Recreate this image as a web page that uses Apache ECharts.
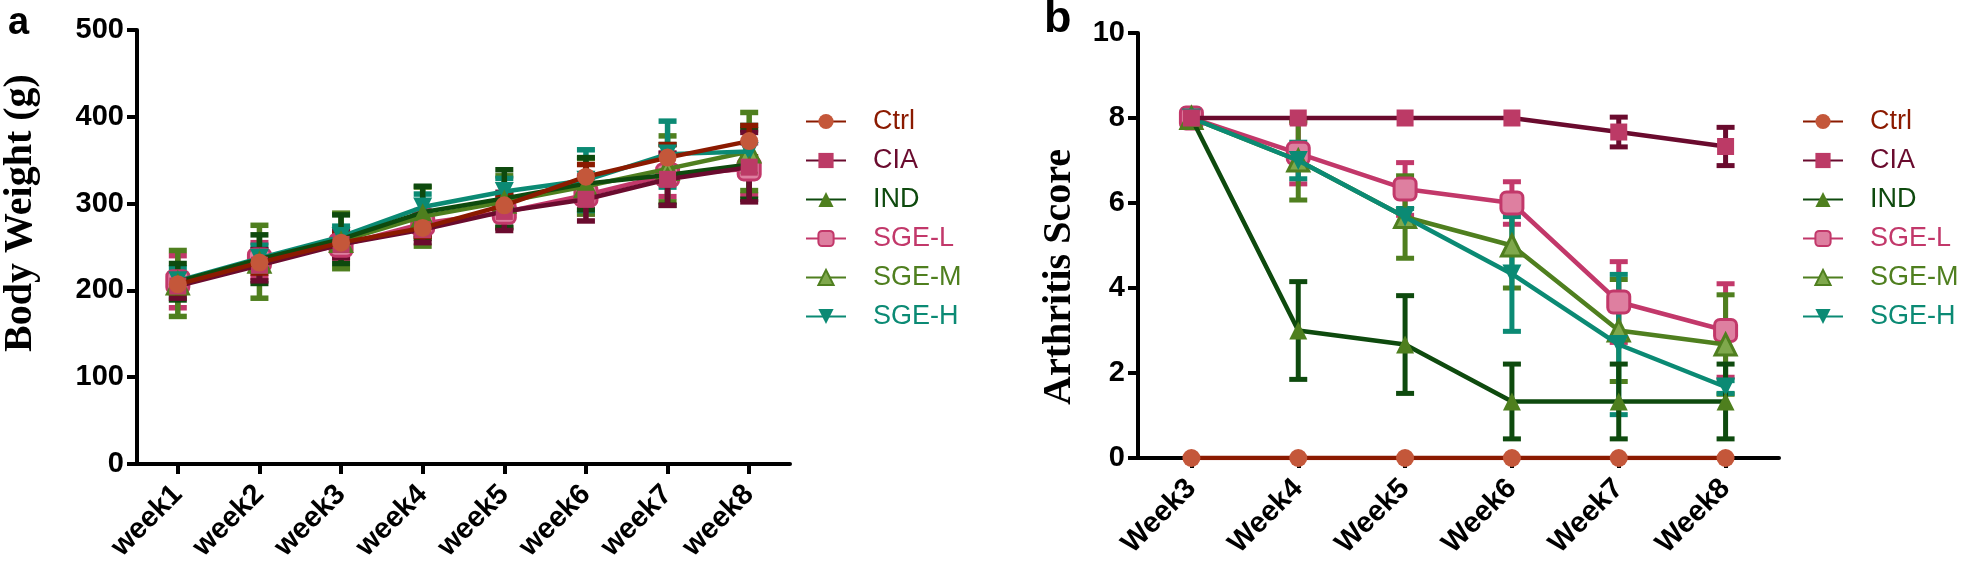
<!DOCTYPE html>
<html>
<head>
<meta charset="utf-8">
<script src="https://cdn.jsdelivr.net/npm/echarts@6/dist/echarts.min.js"></script>
<style>
html,body{margin:0;padding:0;background:#fff;}
#chart{width:1964px;height:578px;}
</style>
</head>
<body>
<div id="chart"></div>
<script>
// ---------- DATA ----------
var groups = ['Ctrl', 'CIA', 'IND', 'SGE-L', 'SGE-M', 'SGE-H'];

// Panel a: body weight (g)
var bwWeeks = ['week1', 'week2', 'week3', 'week4', 'week5', 'week6', 'week7', 'week8'];
var bwTicks = [0, 100, 200, 300, 400, 500];
var bwCtrl  = [207, 232, 255, 272, 298, 331, 353, 372];
var bwCIA   = [205, 229, 253, 270, 291, 305, 328, 342];
var bwIND   = [210, 236, 259, 290, 306, 323, 333, 345];
var bwSGEL  = [210, 235, 252, 277, 290, 310, 333, 340];
var bwSGEM  = [208, 233, 257, 285, 302, 320, 340, 360];
var bwSGEH  = [211, 237, 262, 296, 314, 327, 357, 360];
var bwCtrlErr = [10, 12, 10, 10, 12, 14, 15, 18];
var bwCIAErr  = [14, 18, 15, 15, 22, 25, 30, 40];
var bwINDErr  = [21, 28, 28, 30, 33, 30, 35, 40];
var bwSGELErr = [30, 20, 15, 15, 18, 22, 25, 30];
var bwSGEMErr = [38, 42, 32, 34, 30, 32, 38, 45];
var bwSGEHErr = [15, 15, 12, 15, 15, 35, 38, 30];

// Panel b: arthritis score
var asWeeks = ['Week3', 'Week4', 'Week5', 'Week6', 'Week7', 'Week8'];
var asTicks = [0, 2, 4, 6, 8, 10];
var asCtrl  = [0, 0, 0, 0, 0, 0];
var asCIA   = [8, 8, 8, 8, 7.67, 7.33];
var asIND   = [8, 3, 2.67, 1.33, 1.33, 1.33];
var asSGEL  = [8, 7.17, 6.33, 6, 3.67, 3];
var asSGEM  = [8, 7, 5.67, 5, 3, 2.67];
var asSGEH  = [8, 7, 5.67, 4.33, 2.67, 1.67];
var asCtrlErr = [0, 0, 0, 0, 0, 0];
var asCIAErr  = [0, 0, 0, 0, 0.35, 0.45];
var asINDErr  = [0, 1.15, 1.15, 0.88, 0.88, 0.88];
var asSGELErr = [0, 0.72, 0.62, 0.5, 0.95, 1.1];
var asSGEMErr = [0, 0.93, 0.97, 1.0, 1.2, 1.17];
var asSGEHErr = [0, 0.43, 0.2, 1.35, 1.65, 0.15];

// ---------- STYLES ----------
var styles = {
  'Ctrl':  {line:'#8B1A00', fill:'#C4573A', border:'#C4573A', symbol:'circle', rot:0, size:18, text:'#8B1A00', err:'#8B1A00'},
  'CIA':   {line:'#6A0B2E', fill:'#BC3A66', border:'#BC3A66', symbol:'rect', rot:0, size:17, text:'#6A0B2E', err:'#6A0B2E'},
  'IND':   {line:'#0E4A0E', fill:'#4E7F1E', border:'#4E7F1E', symbol:'triangle', rot:0, size:18, text:'#0E4A0E', err:'#0E4A0E'},
  'SGE-L': {line:'#C2386A', fill:'#DE7FA0', border:'#C2386A', symbol:'roundRect', rot:0, size:22, text:'#C2386A', err:'#C2386A'},
  'SGE-M': {line:'#4F7F1F', fill:'#7FA84C', border:'#4F7F1F', symbol:'triangle', rot:0, size:21, text:'#4F7F1F', err:'#4F7F1F'},
  'SGE-H': {line:'#0B8A74', fill:'#0B8A74', border:'#0B8A74', symbol:'triangle', rot:180, size:19, text:'#0B8A74', err:'#0B8A74'}
};

var bwVals = {'Ctrl':bwCtrl,'CIA':bwCIA,'IND':bwIND,'SGE-L':bwSGEL,'SGE-M':bwSGEM,'SGE-H':bwSGEH};
var bwErrs = {'Ctrl':bwCtrlErr,'CIA':bwCIAErr,'IND':bwINDErr,'SGE-L':bwSGELErr,'SGE-M':bwSGEMErr,'SGE-H':bwSGEHErr};
var asVals = {'Ctrl':asCtrl,'CIA':asCIA,'IND':asIND,'SGE-L':asSGEL,'SGE-M':asSGEM,'SGE-H':asSGEH};
var asErrs = {'Ctrl':asCtrlErr,'CIA':asCIAErr,'IND':asINDErr,'SGE-L':asSGELErr,'SGE-M':asSGEMErr,'SGE-H':asSGEHErr};

var chart = echarts.init(document.getElementById('chart'), null, {renderer:'canvas'});

function errSeries(name, vals, errs, gi, color, z, lw){
  var data = [];
  for (var i = 0; i < vals.length; i++) {
    if (errs[i] > 0) data.push([i, vals[i] - errs[i], vals[i] + errs[i]]);
  }
  return {
    type:'custom', name:name + ' err', xAxisIndex:gi, yAxisIndex:gi, z:z, silent:true,
    itemStyle:{color:color},
    data:data,
    renderItem:function(params, api){
      var x = api.value(0);
      var lo = api.coord([x, api.value(1)]);
      var hi = api.coord([x, api.value(2)]);
      var w = 9;
      var st = {stroke:color, lineWidth:lw};
      return {type:'group', children:[
        {type:'line', shape:{x1:lo[0], y1:lo[1], x2:hi[0], y2:hi[1]}, style:st},
        {type:'line', shape:{x1:lo[0]-w, y1:lo[1], x2:lo[0]+w, y2:lo[1]}, style:st},
        {type:'line', shape:{x1:hi[0]-w, y1:hi[1], x2:hi[0]+w, y2:hi[1]}, style:st}
      ]};
    }
  };
}

function lineSeries(name, vals, gi, z){
  var s = styles[name];
  return {
    type:'line', name:name, xAxisIndex:gi, yAxisIndex:gi, z:z,
    data:vals, symbol:s.symbol, symbolSize:s.size, symbolRotate:s.rot,
    showAllSymbol:true,
    lineStyle:{color:s.line, width:4.5},
    itemStyle:{color:s.fill, borderColor:s.border, borderWidth:(name==='SGE-L'||name==='SGE-M')?3:0},
    emphasis:{disabled:true}
  };
}

var series = [];
var order = ['SGE-L','SGE-M','SGE-H','IND','CIA','Ctrl'];
order.forEach(function(n, k){ series.push(lineSeries(n, bwVals[n], 0, 10 + k)); });
order.forEach(function(n, k){ series.push(lineSeries(n, asVals[n], 1, 10 + k)); });
order.forEach(function(n, k){ series.push(errSeries(n, bwVals[n], bwErrs[n], 0, styles[n].err, 2 + k, 5.5)); });
order.forEach(function(n, k){ series.push(errSeries(n, asVals[n], asErrs[n], 1, styles[n].err, 2 + k, 5)); });

var legendData = groups.map(function(g){ return {name:g, textStyle:{color:styles[g].text}}; });

function legend(left){
  return {
    orient:'vertical', left:left, top:103, itemWidth:40, itemHeight:19, itemGap:12,
    selectedMode:false,
    data:legendData,
    textStyle:{fontFamily:'Liberation Sans, Arial, sans-serif', fontSize:27, padding:[0,0,0,22]}
  };
}

var axisLine = {show:true, lineStyle:{color:'#000', width:4}};
var axisTick = {show:true, length:10, lineStyle:{color:'#000', width:4}};
var tickFont = {color:'#000', fontFamily:'Liberation Sans, Arial, sans-serif', fontWeight:'bold', fontSize:29};
var titleFont = 'bold 40px "Liberation Serif", "Times New Roman", serif';

var option = {
  backgroundColor:'#fff',
  animation:false,
  legend:[legend(800), legend(1797)],
  grid:[
    {left:137, top:30, width:653, bottom:114, containLabel:false},
    {left:1138, top:33, width:641, bottom:120, containLabel:false}
  ],
  xAxis:[
    {type:'category', gridIndex:0, data:bwWeeks, boundaryGap:true,
     axisLine:axisLine, axisTick:{show:true, alignWithLabel:true, length:10, lineStyle:{color:'#000', width:4}},
     axisLabel:Object.assign({rotate:45, margin:26, interval:0}, tickFont), splitLine:{show:false}},
    {type:'category', gridIndex:1, data:asWeeks, boundaryGap:true,
     axisLine:axisLine, axisTick:{show:true, alignWithLabel:true, length:10, lineStyle:{color:'#000', width:4}},
     axisLabel:Object.assign({rotate:45, margin:26, interval:0}, tickFont), splitLine:{show:false}}
  ],
  yAxis:[
    {type:'value', gridIndex:0, min:bwTicks[0], max:bwTicks[bwTicks.length-1], interval:bwTicks[1]-bwTicks[0],
     axisLine:axisLine, axisTick:axisTick, axisLabel:Object.assign({margin:13}, tickFont), splitLine:{show:false}},
    {type:'value', gridIndex:1, min:asTicks[0], max:asTicks[asTicks.length-1], interval:asTicks[1]-asTicks[0],
     axisLine:axisLine, axisTick:axisTick, axisLabel:Object.assign({margin:13}, tickFont), splitLine:{show:false}}
  ],
  graphic:[
    {type:'text', left:8, top:5, style:{text:'a', fill:'#000', font:'bold 38px "Liberation Sans", Arial, sans-serif'}},
    {type:'text', left:1044, top:-3, style:{text:'b', fill:'#000', font:'bold 45px "Liberation Sans", Arial, sans-serif'}},
    {type:'text', x:21, y:213, rotation:Math.PI/2,
     style:{text:'Body Weight (g)', fill:'#000', font:titleFont, textAlign:'center', textVerticalAlign:'middle'}},
    {type:'text', x:1060, y:277, rotation:Math.PI/2,
     style:{text:'Arthritis Score', fill:'#000', font:titleFont, textAlign:'center', textVerticalAlign:'middle'}}
  ],
  series:series
};
chart.setOption(option);
</script>
</body>
</html>
